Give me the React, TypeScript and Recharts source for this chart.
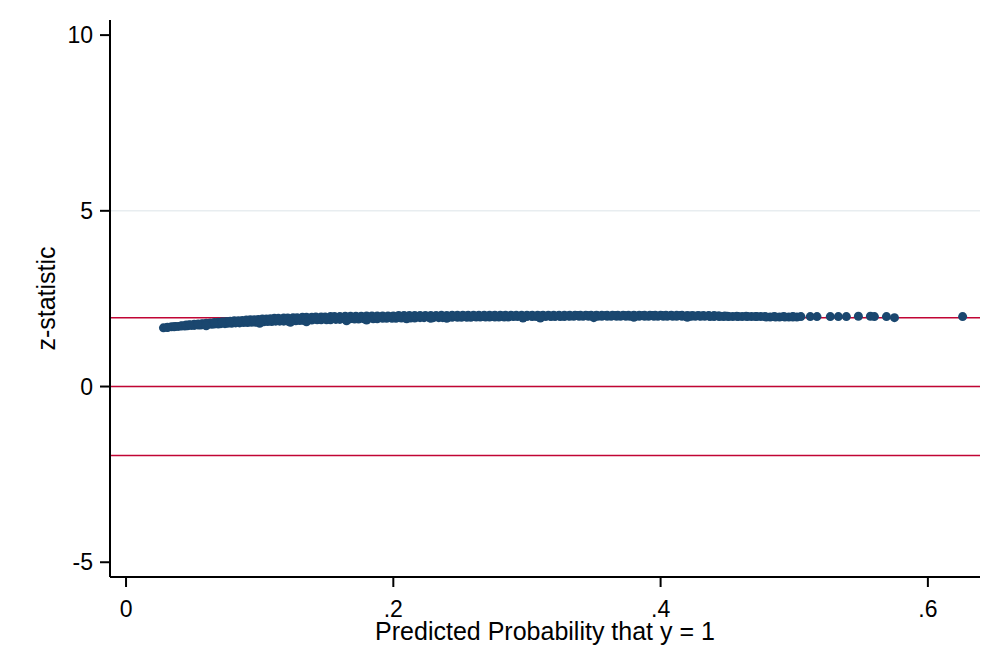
import React from "react";
import { ScatterChart, Scatter, XAxis, YAxis, ReferenceLine } from "recharts";

// Tick values and labels
const xTicks = [0, 0.2, 0.4, 0.6];
const xTickLabels = ["0", ".2", ".4", ".6"];
const yTicks = [-5, 0, 5, 10];
const yTickLabels = ["-5", "0", "5", "10"];

// Reference lines (z = ±1.96 and 0) and grid line
const refLines = [1.96, 0, -1.96];
const gridLines = [5, 0];

// Lower edge of the dense band
const lowerX = [0.028, 0.034, 0.039, 0.044, 0.049, 0.054, 0.059, 0.064, 0.069, 0.074, 0.079, 0.085, 0.091, 0.097, 0.103, 0.109, 0.115, 0.121, 0.127, 0.133, 0.139, 0.146, 0.153, 0.16, 0.167, 0.174, 0.181, 0.188, 0.195, 0.202, 0.209, 0.216, 0.223, 0.23, 0.237, 0.244, 0.251, 0.258, 0.265, 0.272, 0.279, 0.286, 0.293, 0.3, 0.307, 0.314, 0.321, 0.328, 0.335, 0.342, 0.349, 0.356, 0.363, 0.37, 0.377, 0.384, 0.391, 0.398, 0.405, 0.412, 0.419, 0.426, 0.433, 0.44, 0.447, 0.454, 0.461, 0.468, 0.475, 0.482, 0.489, 0.496, 0.502];
const lowerZ = [1.67, 1.7, 1.71, 1.72, 1.74, 1.75, 1.76, 1.77, 1.78, 1.79, 1.8, 1.81, 1.82, 1.83, 1.84, 1.85, 1.86, 1.86, 1.87, 1.88, 1.89, 1.9, 1.9, 1.91, 1.92, 1.92, 1.93, 1.93, 1.94, 1.94, 1.95, 1.95, 1.96, 1.96, 1.96, 1.97, 1.97, 1.97, 1.98, 1.98, 1.98, 1.98, 1.99, 1.99, 1.99, 1.99, 1.99, 1.99, 2.0, 2.0, 2.0, 2.0, 2.0, 2.0, 2.0, 2.0, 2.0, 2.0, 2.0, 2.0, 2.0, 2.0, 2.0, 1.99, 1.99, 1.99, 1.99, 1.99, 1.99, 1.98, 1.98, 1.98, 1.98];

// Second lower strand (fills gaps)
const lower2X = [0.031, 0.036, 0.041, 0.046, 0.051, 0.056, 0.061, 0.066, 0.071, 0.076, 0.082, 0.088, 0.094, 0.1, 0.106, 0.112, 0.118, 0.124, 0.13, 0.136, 0.143, 0.15, 0.157, 0.164, 0.171, 0.178, 0.185, 0.192, 0.199, 0.206, 0.213, 0.22, 0.227, 0.234, 0.241, 0.248, 0.255, 0.262, 0.269, 0.276, 0.283, 0.29, 0.297, 0.304, 0.311, 0.318, 0.325, 0.332, 0.339, 0.346, 0.353, 0.36, 0.367, 0.374, 0.381, 0.388, 0.395, 0.402, 0.409, 0.416, 0.423, 0.43, 0.437, 0.444, 0.451, 0.458, 0.465, 0.472, 0.479, 0.486, 0.493, 0.499];
const lower2Z = [1.68, 1.7, 1.72, 1.73, 1.74, 1.75, 1.77, 1.78, 1.79, 1.8, 1.81, 1.82, 1.83, 1.84, 1.85, 1.86, 1.86, 1.87, 1.88, 1.89, 1.9, 1.9, 1.91, 1.91, 1.92, 1.93, 1.93, 1.94, 1.94, 1.95, 1.95, 1.96, 1.96, 1.96, 1.97, 1.97, 1.97, 1.98, 1.98, 1.98, 1.98, 1.99, 1.99, 1.99, 1.99, 1.99, 1.99, 2.0, 2.0, 2.0, 2.0, 2.0, 2.0, 2.0, 2.0, 2.0, 2.0, 2.0, 2.0, 2.0, 2.0, 2.0, 1.99, 1.99, 1.99, 1.99, 1.99, 1.99, 1.98, 1.98, 1.98, 1.98];

// Middle strand
const midX = [0.031, 0.037, 0.042, 0.047, 0.052, 0.057, 0.062, 0.067, 0.072, 0.077, 0.082, 0.088, 0.094, 0.1, 0.106, 0.112, 0.118, 0.124, 0.13, 0.136, 0.142, 0.149, 0.156, 0.163, 0.17, 0.177, 0.184, 0.191, 0.198, 0.205, 0.212, 0.219, 0.226, 0.233, 0.24, 0.247, 0.254, 0.261, 0.268, 0.275, 0.282, 0.289, 0.296, 0.303, 0.31, 0.317, 0.324, 0.331, 0.338, 0.345, 0.352, 0.359, 0.366, 0.373, 0.38, 0.387, 0.394, 0.401, 0.408, 0.415, 0.422, 0.429, 0.436, 0.443, 0.45, 0.457, 0.464, 0.471, 0.478, 0.485, 0.492, 0.499];
const midZ = [1.69, 1.71, 1.73, 1.75, 1.76, 1.78, 1.79, 1.81, 1.82, 1.83, 1.84, 1.85, 1.86, 1.87, 1.88, 1.89, 1.9, 1.91, 1.92, 1.92, 1.93, 1.94, 1.94, 1.95, 1.96, 1.96, 1.97, 1.97, 1.98, 1.98, 1.98, 1.99, 1.99, 1.99, 1.99, 2.0, 2.0, 2.0, 2.0, 2.01, 2.01, 2.01, 2.01, 2.01, 2.01, 2.01, 2.01, 2.01, 2.02, 2.02, 2.02, 2.02, 2.02, 2.02, 2.02, 2.02, 2.02, 2.02, 2.02, 2.02, 2.01, 2.01, 2.01, 2.01, 2.0, 2.0, 2.0, 1.99, 1.99, 1.99, 1.99, 1.99];

// Upper edge of the dense band
const upperX = [0.045, 0.051, 0.057, 0.063, 0.069, 0.075, 0.081, 0.087, 0.093, 0.099, 0.105, 0.111, 0.118, 0.125, 0.132, 0.139, 0.146, 0.153, 0.16, 0.168, 0.176, 0.184, 0.192, 0.2, 0.208, 0.216, 0.224, 0.232, 0.24, 0.248, 0.256, 0.264, 0.272, 0.28, 0.288, 0.296, 0.304, 0.312, 0.32, 0.328, 0.336, 0.344, 0.352, 0.36, 0.368, 0.376, 0.384, 0.392, 0.4, 0.408, 0.416, 0.424, 0.432, 0.44, 0.448];
const upperZ = [1.75, 1.77, 1.79, 1.81, 1.83, 1.85, 1.87, 1.88, 1.9, 1.91, 1.92, 1.94, 1.95, 1.96, 1.97, 1.97, 1.98, 1.99, 1.99, 2.0, 2.0, 2.01, 2.01, 2.01, 2.02, 2.02, 2.02, 2.02, 2.02, 2.03, 2.03, 2.03, 2.03, 2.03, 2.03, 2.03, 2.03, 2.03, 2.03, 2.03, 2.03, 2.03, 2.03, 2.03, 2.03, 2.03, 2.03, 2.03, 2.03, 2.03, 2.03, 2.02, 2.02, 2.02, 2.01];

// Second upper strand
const upper2X = [0.048, 0.054, 0.06, 0.066, 0.072, 0.078, 0.084, 0.09, 0.096, 0.102, 0.108, 0.114, 0.121, 0.128, 0.135, 0.142, 0.149, 0.156, 0.164, 0.172, 0.18, 0.188, 0.196, 0.204, 0.212, 0.22, 0.228, 0.236, 0.244, 0.252, 0.26, 0.268, 0.276, 0.284, 0.292, 0.3, 0.308, 0.316, 0.324, 0.332, 0.34, 0.348, 0.356, 0.364, 0.372, 0.38, 0.388, 0.396, 0.404, 0.412, 0.42, 0.428, 0.436, 0.444];
const upper2Z = [1.76, 1.78, 1.8, 1.82, 1.84, 1.86, 1.87, 1.89, 1.9, 1.92, 1.93, 1.94, 1.95, 1.96, 1.97, 1.98, 1.98, 1.99, 2.0, 2.0, 2.01, 2.01, 2.01, 2.02, 2.02, 2.02, 2.02, 2.03, 2.03, 2.03, 2.03, 2.03, 2.03, 2.03, 2.03, 2.03, 2.03, 2.03, 2.03, 2.03, 2.03, 2.03, 2.03, 2.03, 2.03, 2.03, 2.03, 2.03, 2.03, 2.03, 2.02, 2.02, 2.02, 2.01];

// Occasional lower points within the band
const dipX = [0.06, 0.1, 0.123, 0.135, 0.165, 0.18, 0.21, 0.228, 0.24, 0.297, 0.31, 0.35, 0.38, 0.42];
const dipZ = [1.73, 1.8, 1.83, 1.84, 1.87, 1.89, 1.93, 1.94, 1.94, 1.95, 1.95, 1.96, 1.97, 1.97];

// Sparse tail on the right
const tailX = [0.505, 0.512, 0.517, 0.527, 0.533, 0.539, 0.548, 0.557, 0.56, 0.569, 0.575, 0.626];
const tailZ = [1.99, 1.99, 1.99, 1.99, 1.99, 1.99, 2.0, 2.0, 1.99, 1.99, 1.96, 1.99];

const toPoints = (xs: number[], zs: number[]) => xs.map((x, i) => ({ x, z: zs[i] }));

const strands = [
  toPoints(lowerX, lowerZ),
  toPoints(lower2X, lower2Z),
  toPoints(midX, midZ),
  toPoints(upperX, upperZ),
  toPoints(upper2X, upper2Z),
  toPoints(dipX, dipZ),
  toPoints(tailX, tailZ),
];

const FONT = "'Liberation Sans', Arial, Helvetica, sans-serif";
const DOT = "#1a476f";
const RED = "#c10534";

const Dot = (p: any) => <circle cx={p.cx} cy={p.cy} r={4.5} fill={DOT} />;

const XTick = (p: any) => {
  const i = xTicks.indexOf(p.payload.value);
  return (
    <text x={p.x} y={p.y + 30} textAnchor="middle" fontSize={23} fill="#000" fontFamily={FONT}>
      {xTickLabels[i]}
    </text>
  );
};

const YTick = (p: any) => {
  const i = yTicks.indexOf(p.payload.value);
  return (
    <text x={p.x - 7} y={p.y + 8} textAnchor="end" fontSize={23} fill="#000" fontFamily={FONT}>
      {yTickLabels[i]}
    </text>
  );
};

const XTitle = (p: any) => {
  const vb = p.viewBox;
  const cx = vb.x + vb.width / 2;
  return (
    <text x={cx} y={vb.y + 63} textAnchor="middle" fontSize={25} fill="#000" fontFamily={FONT}>
      Predicted Probability that y = 1
    </text>
  );
};

const YTitle = (p: any) => {
  const vb = p.viewBox;
  const x = vb.x + 55;
  const y = vb.y + vb.height / 2;
  return (
    <text x={x} y={y} transform={`rotate(-90, ${x}, ${y})`} textAnchor="middle" fontSize={25} fill="#000" fontFamily={FONT}>
      z-statistic
    </text>
  );
};

export default function App() {
  return (
    <div style={{ position: "absolute", left: 0, top: 0, width: 994, height: 671, background: "#fff" }}>
      <ScatterChart width={994} height={671} margin={{ top: 20, right: 14, bottom: 0, left: 0 }}>
        <XAxis
          type="number"
          dataKey="x"
          domain={[-0.012, 0.639]}
          allowDataOverflow
          ticks={xTicks}
          height={94}
          tickSize={10}
          tickMargin={0}
          tick={<XTick />}
          axisLine={{ stroke: "#000", strokeWidth: 2 }}
          tickLine={{ stroke: "#000", strokeWidth: 2 }}
          label={<XTitle />}
        />
        <YAxis
          type="number"
          dataKey="z"
          domain={[-5.42, 10.43]}
          allowDataOverflow
          ticks={yTicks}
          width={110}
          tickSize={10}
          tickMargin={0}
          tick={<YTick />}
          axisLine={{ stroke: "#000", strokeWidth: 2 }}
          tickLine={{ stroke: "#000", strokeWidth: 2 }}
          label={<YTitle />}
        />
        {gridLines.map((g) => (
          <ReferenceLine key={"g" + g} y={g} stroke="#e8edf0" strokeWidth={1.5} />
        ))}
        {refLines.map((r) => (
          <ReferenceLine key={"r" + r} y={r} stroke={RED} strokeWidth={1.5} />
        ))}
        {strands.map((d, i) => (
          <Scatter key={i} data={d} shape={<Dot />} isAnimationActive={false} />
        ))}
      </ScatterChart>
    </div>
  );
}
